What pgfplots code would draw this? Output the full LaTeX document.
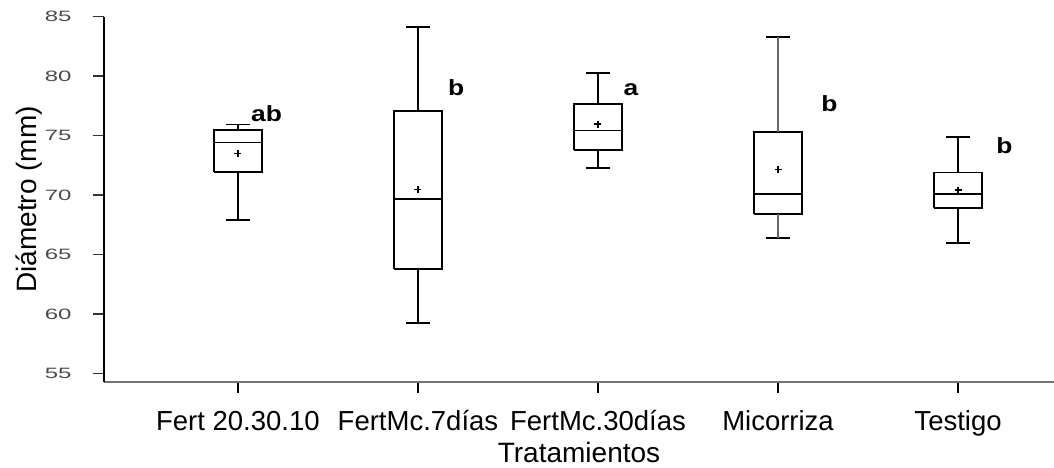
\documentclass[border=0pt]{standalone}
\usepackage{fontspec}
\setmainfont{Liberation Sans}
\newfontfamily\letterfont[FakeStretch=1.2]{Liberation Sans}
\usepackage{graphicx}
\usepackage{pgfplots}
\pgfplotsset{compat=1.18}
\newcommand{\widenum}[1]{\scalebox{1.6}[1]{#1}}
\begin{document}
\begin{tikzpicture}
\path[use as bounding box] (0,0) rectangle (1054pt,467pt);
\begin{axis}[
  at={(104pt,85pt)}, anchor=south west,
  scale only axis, width=950pt, height=365.3pt,
  xmin=-0.744, xmax=4.533, ymin=54.27, ymax=85,
  axis x line=bottom, axis y line=left,
  x axis line style={-, draw=black!55, line width=2.5pt},
  y axis line style={-, draw=black, line width=2pt},
  xtick={0,1,2,3,4},
  xticklabels={Fert 20.30.10, FertMc.7días, FertMc.30días, Micorriza, Testigo},
  ytick={55,60,65,70,75,80,85},
  yticklabels={\widenum{55},\widenum{60},\widenum{65},\widenum{70},\widenum{75},\widenum{80},\widenum{85}},
  tick align=outside,
  major tick length=11pt,
  x tick style={black, line width=2pt},
  y tick style={black!80, line width=1.5pt},
  xticklabel style={font=\fontsize{27.5}{28}\selectfont, anchor=base, yshift=-37.7pt},
  yticklabel style={font=\fontsize{15}{15}\selectfont, text=black!70, anchor=east, xshift=-18pt},
  xlabel={Tratamientos},
  xlabel style={font=\fontsize{28}{28}\selectfont, at={(axis description cs:0.5,-0.2217)}, anchor=base},
  ylabel={Diámetro (mm)},
  ylabel style={font=\fontsize{28}{28}\selectfont, at={(axis description cs:-0.0715,0.5)}, anchor=base},
  unbounded coords=jump,
  clip=false,
]
% boxes: position, lower whisker, lower quartile, median, upper quartile, upper whisker
% Fert 20.30.10: 67.9, 71.96, 74.43, 75.46, 75.94
\addplot[black, line width=1.8pt] coordinates {
 (-0.1335,71.96) (0.1335,71.96) (0.1335,75.46) (-0.1335,75.46) (-0.1335,71.96) (0,nan)
 (0,75.46) (0,75.94) (0,nan) (-0.0667,75.94) (0.0667,75.94) (0,nan)
 (0,71.96) (0,67.9) (0,nan) (-0.0667,67.9) (0.0667,67.9)};
\addplot[black, line width=1.3pt] coordinates {(-0.1335,74.43) (0.1335,74.43)};
% FertMc.7dias: 59.26, 63.8, 69.66, 77.06, 84.15
\addplot[black, line width=1.8pt] coordinates {
 (0.8665,63.8) (1.1335,63.8) (1.1335,77.06) (0.8665,77.06) (0.8665,63.8) (1,nan)
 (1,77.06) (1,84.15) (1,nan) (0.9333,84.15) (1.0667,84.15) (1,nan)
 (1,63.8) (1,59.26) (1,nan) (0.9333,59.26) (1.0667,59.26)};
\addplot[black, line width=1.3pt] coordinates {(0.8665,69.66) (1.1335,69.66)};
% FertMc.30dias: 72.24, 73.78, 75.4, 77.65, 80.28
\addplot[black, line width=1.8pt] coordinates {
 (1.8665,73.78) (2.1335,73.78) (2.1335,77.65) (1.8665,77.65) (1.8665,73.78) (2,nan)
 (2,77.65) (2,80.28) (2,nan) (1.9333,80.28) (2.0667,80.28) (2,nan)
 (2,73.78) (2,72.24) (2,nan) (1.9333,72.24) (2.0667,72.24)};
\addplot[black, line width=1.3pt] coordinates {(1.8665,75.4) (2.1335,75.4)};
% Micorriza: 66.4, 68.37, 70.08, 75.32, 83.26
\addplot[black, line width=1.8pt] coordinates {
 (2.8665,68.37) (3.1335,68.37) (3.1335,75.32) (2.8665,75.32) (2.8665,68.37) (3,nan)
 (2.9333,83.26) (3.0667,83.26) (3,nan)
 (2.9333,66.4) (3.0667,66.4)};
\addplot[black!60, line width=1.8pt] coordinates {
 (3,75.32) (3,83.26) (3,nan) (3,68.37) (3,66.4)};
\addplot[black, line width=1.3pt] coordinates {(2.8665,70.08) (3.1335,70.08)};
% Testigo: 65.98, 68.93, 70.08, 71.9, 74.85
\addplot[black, line width=1.8pt] coordinates {
 (3.8665,68.93) (4.1335,68.93) (4.1335,71.9) (3.8665,71.9) (3.8665,68.93) (4,nan)
 (4,71.9) (4,74.85) (4,nan) (3.9333,74.85) (4.0667,74.85) (4,nan)
 (4,68.93) (4,65.98) (4,nan) (3.9333,65.98) (4.0667,65.98)};
\addplot[black, line width=1.3pt] coordinates {(3.8665,70.08) (4.1335,70.08)};
% means
\addplot[only marks, mark=+, mark size=3.5pt, black, line width=1.2pt] coordinates {(0,73.5) (1,70.48) (2,75.97) (3,72.18) (4,70.42)};
\node[anchor=base, font=\letterfont\bfseries\fontsize{22}{22}\selectfont] at (axis cs:0.159,76.16) {ab};
\node[anchor=base, font=\letterfont\bfseries\fontsize{22}{22}\selectfont] at (axis cs:1.212,78.41) {b};
\node[anchor=base, font=\letterfont\bfseries\fontsize{22}{22}\selectfont] at (axis cs:2.183,78.41) {a};
\node[anchor=base, font=\letterfont\bfseries\fontsize{22}{22}\selectfont] at (axis cs:3.286,77.0) {b};
\node[anchor=base, font=\letterfont\bfseries\fontsize{22}{22}\selectfont] at (axis cs:4.258,73.53) {b};
\end{axis}
\end{tikzpicture}
\end{document}
